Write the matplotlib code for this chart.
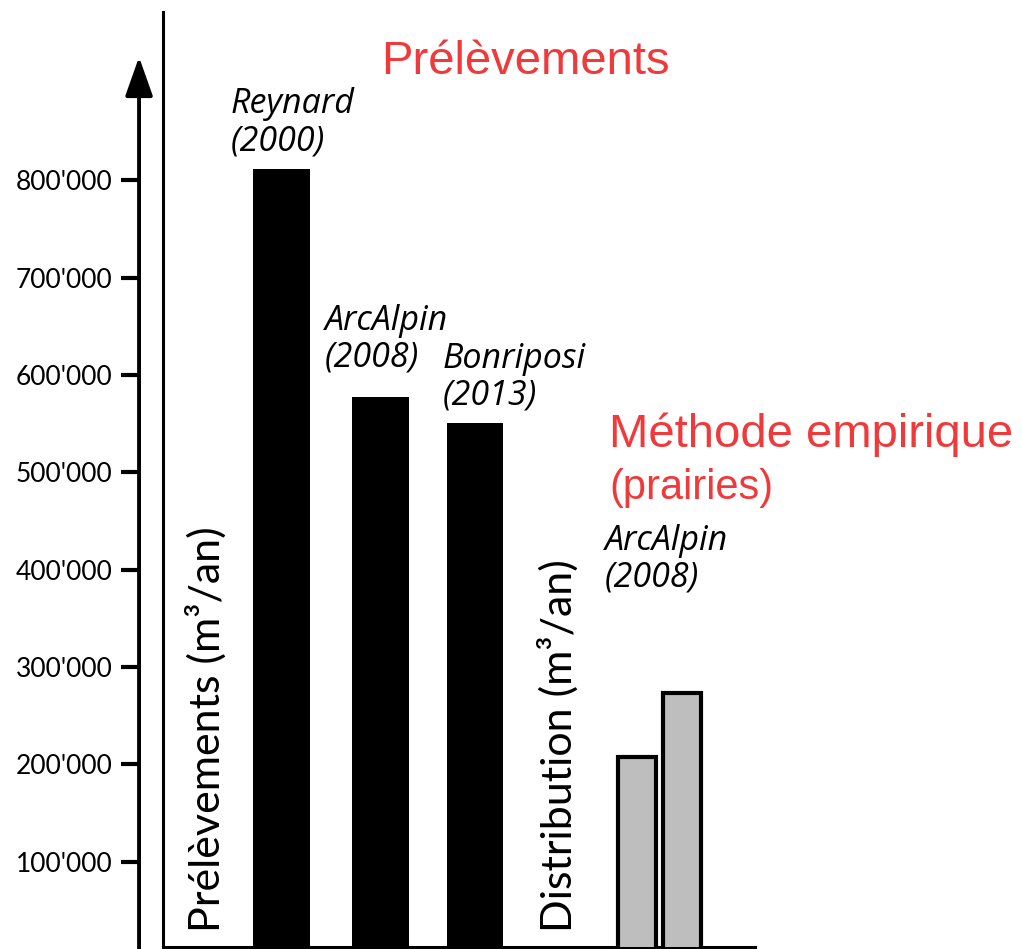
import matplotlib
matplotlib.use("Agg")
import matplotlib.pyplot as plt

# ---- data ----
black_labels = ["Reynard\n(2000)", "ArcAlpin\n(2008)", "Bonriposi\n(2013)"]
black_values = [812000, 577000, 551000]
gray_label = "ArcAlpin\n(2008)"
gray_values = [208000, 273000]
ytick_values = [100000, 200000, 300000, 400000, 500000, 600000, 700000, 800000]
ytick_labels = ["100'000", "200'000", "300'000", "400'000", "500'000",
                "600'000", "700'000", "800'000"]

W, H = 1022, 949
fig = plt.figure(figsize=(W / 100, H / 100), dpi=100)

def fx(x):
    return x / W

def fy(y):
    return 1 - y / H

YMIN, YMAX = 12300, 973000
ax_bottom = fy(947)
ax_height = fy(12) - fy(947)

ax = fig.add_axes([fx(163), ax_bottom, fx(755) - fx(163), ax_height])
ax.set_xlim(0, 10)
ax.set_ylim(YMIN, YMAX)
for s in ["top", "right"]:
    ax.spines[s].set_visible(False)
ax.spines["left"].set_linewidth(2.2)
ax.spines["bottom"].set_linewidth(2.2)
ax.set_xticks([])
ax.set_yticks([])

black_x = [2.0, 3.68, 5.27]
ax.bar(black_x, black_values, width=0.96, color="black", zorder=3)
gray_x = [8.0, 8.77]
ax.bar(gray_x, gray_values, width=0.64, color="#BEBEBE", edgecolor="black",
       linewidth=3.0, zorder=3)

# tick axis with arrow
ax2 = fig.add_axes([fx(139), ax_bottom, 0.0001, ax_height])
ax2.set_ylim(YMIN, YMAX)
for s in ["top", "right", "bottom", "left"]:
    ax2.spines[s].set_visible(False)
ax2.set_xticks([])
ax2.set_yticks(ytick_values)
ax2.set_yticklabels(ytick_labels, fontsize=19, family="Lato")
ax2.tick_params(axis="y", length=13, width=3, pad=6, colors="black")
ax2.annotate("", xy=(0.5, fy(57)), xytext=(0.5, fy(949)),
             xycoords=("axes fraction", "figure fraction"),
             textcoords=("axes fraction", "figure fraction"),
             arrowprops=dict(arrowstyle="-|>,head_length=2.4,head_width=0.85",
                             color="black", lw=2.8, mutation_scale=10,
                             shrinkA=0, shrinkB=0))

# italic labels
label_pos = [(231, 158), (325, 375), (443, 413)]
for lab, (x, y) in zip(black_labels, label_pos):
    fig.text(fx(x), fy(y), lab, fontsize=24.5, style="italic", family="Open Sans",
             ha="left", va="bottom", linespacing=1.1)
fig.text(fx(605), fy(595), gray_label, fontsize=24.5, style="italic",
         family="Open Sans", ha="left", va="bottom", linespacing=1.1)

red = "#F0393B"
fig.text(fx(381), fy(62), "Prélèvements", fontsize=34, color=red,
         family="Liberation Sans", ha="left", va="center")
fig.text(fx(609), fy(435), "Méthode empirique", fontsize=34, color=red,
         family="Liberation Sans", ha="left", va="center")
fig.text(fx(609), fy(488), "(prairies)", fontsize=30, color=red,
         family="Liberation Sans", ha="left", va="center")

fig.text(fx(206), fy(932), "Prélèvements (m³/an)", fontsize=31, rotation=90,
         family="Lato", ha="center", va="bottom")
fig.text(fx(558), fy(932), "Distribution (m³/an)", fontsize=31, rotation=90,
         family="Lato", ha="center", va="bottom")

fig.savefig("out.png", dpi=100)
